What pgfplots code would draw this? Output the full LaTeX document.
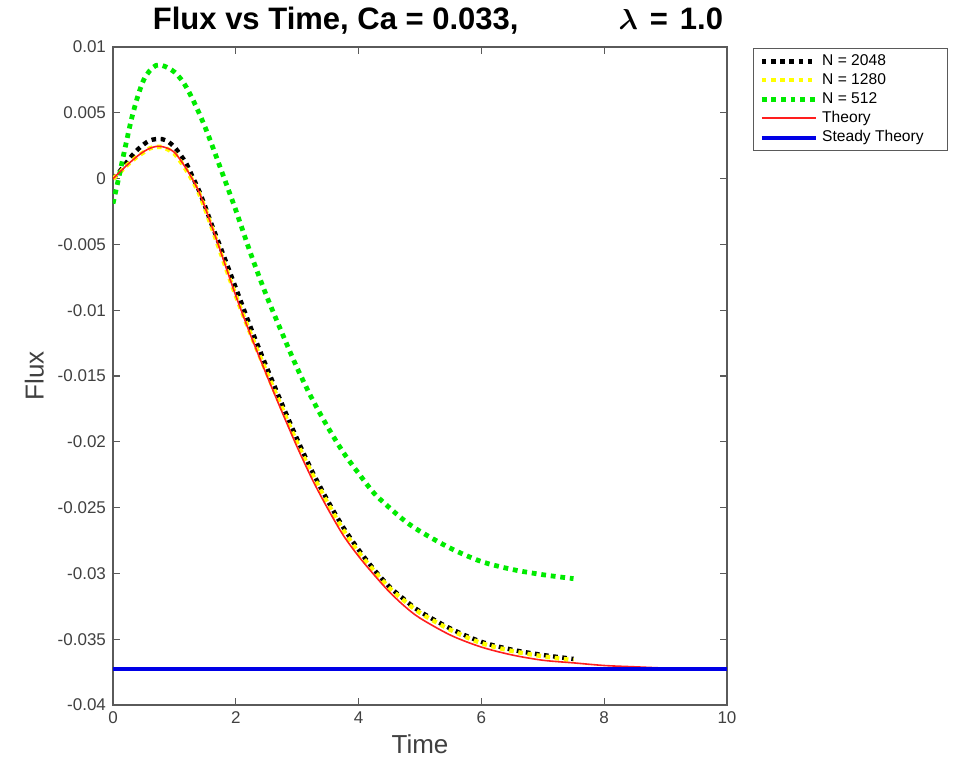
\documentclass[border=0pt]{standalone}
\usepackage{pgfplots}
\pgfplotsset{compat=1.18}
\usepackage{fontspec}
\setmainfont{Liberation Sans}

\definecolor{axgray}{RGB}{90,90,90}
\definecolor{lblgray}{RGB}{64,64,64}
\definecolor{octyellow}{RGB}{255,255,0}
\definecolor{octgreen}{RGB}{0,235,0}
\definecolor{octred}{RGB}{255,30,30}
\definecolor{octblue}{RGB}{0,0,230}

\begin{document}
\begin{tikzpicture}
\begin{axis}[
  scale only axis,width=307pt,height=329pt,
  xmin=0,xmax=10,ymin=-0.04,ymax=0.01,
  scaled y ticks=false,scaled x ticks=false,
  xtick={0,2,4,6,8,10},xticklabels={0,2,4,6,8,10},
  ytick={-0.04,-0.035,-0.03,-0.025,-0.02,-0.015,-0.01,-0.005,0,0.005,0.01},
  yticklabels={-0.04,-0.035,-0.03,-0.025,-0.02,-0.015,-0.01,-0.005,0,0.005,0.01},
  tick align=inside,major tick length=3.5pt,
  axis line style={axgray,line width=0.6pt},tick style={axgray,line width=0.6pt},
  ticklabel style={font=\fontsize{8.5}{10}\selectfont,text=lblgray},
  xlabel={Time},ylabel={Flux},
  label style={font=\fontsize{13}{15}\selectfont,text=lblgray},
  xlabel style={yshift=1.5pt},
  title={Flux vs Time, Ca = 0.033,\hspace{50pt}{\boldmath$\lambda$}\hspace{6pt}=\hspace{6pt}1.0},
  title style={font=\fontsize{15.5}{18}\selectfont\bfseries,at={(0.5,1)},anchor=base,yshift=2.5pt,xshift=9pt},
  legend style={at={(1,1)},anchor=north west,xshift=13pt,yshift=-0.5pt,
    font=\fontsize{7.8}{9}\selectfont,draw=axgray,fill=white,
    inner xsep=3pt,inner ysep=1pt,row sep=-1.5pt,cells={anchor=west}},
  legend image code/.code={\draw[#1] (0pt,0pt) -- (27pt,0pt);},
]
\addplot[black,line width=2.2pt,dash pattern=on 2.3pt off 2.3pt,smooth] coordinates {
  (0,0) (0.1,0.0005) (0.2,0.0011) (0.3,0.0017) (0.4,0.0022) (0.5,0.0026)
  (0.6,0.0029) (0.7,0.0030) (0.8,0.0030) (0.9,0.0028) (1.0,0.0024) (1.1,0.0018)
  (1.2,0.0011) (1.3,0.0001) (1.4,-0.0009) (1.5,-0.0021) (1.6,-0.0034) (1.75,-0.0052)
  (2.0,-0.0083) (2.25,-0.0114) (2.5,-0.0143) (2.75,-0.0171) (3.0,-0.0198)
  (3.25,-0.0223) (3.5,-0.0245) (3.75,-0.0265) (4.0,-0.0282) (4.25,-0.0297)
  (4.5,-0.0310) (4.75,-0.0320) (5.0,-0.0329) (5.5,-0.0342) (6.0,-0.0352)
  (6.5,-0.0358) (7.0,-0.0362) (7.5,-0.0365)
};
\addlegendentry{N = 2048}
\addplot[octyellow,line width=2.2pt,dash pattern=on 2.3pt off 2.3pt,smooth] coordinates {
  (0,0) (0.1,0.0004) (0.2,0.0009) (0.3,0.0013) (0.4,0.0017) (0.5,0.0020)
  (0.6,0.0023) (0.7,0.0024) (0.8,0.0024) (0.9,0.0022) (1.0,0.0019) (1.1,0.0013)
  (1.2,0.0006) (1.3,-0.0002) (1.4,-0.0011) (1.5,-0.0023) (1.6,-0.0036) (1.75,-0.0056)
  (2.0,-0.0089) (2.25,-0.0119) (2.5,-0.0147) (2.75,-0.0174) (3.0,-0.0201)
  (3.25,-0.0225) (3.5,-0.0247) (3.75,-0.0267) (4.0,-0.0284) (4.25,-0.0298)
  (4.5,-0.0311) (4.75,-0.0321) (5.0,-0.0330) (5.5,-0.0343) (6.0,-0.0353)
  (6.5,-0.0359) (7.0,-0.0363) (7.5,-0.0366)
};
\addlegendentry{N = 1280}
\addplot[octgreen,line width=2.4pt,dash pattern=on 2.4pt off 2.4pt,smooth] coordinates {
  (0,-0.0019) (0.1,0.0002) (0.2,0.0024) (0.3,0.0045) (0.4,0.0062) (0.5,0.0075)
  (0.6,0.0082) (0.7,0.0086) (0.8,0.0086) (0.9,0.0084) (1.0,0.0081) (1.1,0.0076)
  (1.2,0.0069) (1.3,0.0060) (1.4,0.0050) (1.5,0.0039) (1.6,0.0027) (1.75,0.0008)
  (2.0,-0.0024) (2.25,-0.0058) (2.5,-0.0089) (2.75,-0.0117) (3.0,-0.0144)
  (3.25,-0.0168) (3.5,-0.0189) (3.75,-0.0208) (4.0,-0.0224) (4.25,-0.0239)
  (4.5,-0.0250) (4.75,-0.0260) (5.0,-0.0268) (5.5,-0.0281) (6.0,-0.0291)
  (6.5,-0.0297) (7.0,-0.0301) (7.5,-0.0304)
};
\addlegendentry{N = 512}
\addplot[octred,line width=0.8pt,smooth] coordinates {
  (0,0) (0.1,0.00045) (0.2,0.0009) (0.3,0.00132) (0.4,0.00172) (0.5,0.00205)
  (0.6,0.0023) (0.7,0.00244) (0.8,0.00243) (0.9,0.00228) (1.0,0.0020) (1.1,0.0014)
  (1.2,0.0007) (1.3,-0.0001) (1.4,-0.0010) (1.5,-0.0022) (1.6,-0.0035) (1.75,-0.0055)
  (2.0,-0.0089) (2.25,-0.0120) (2.5,-0.0149) (2.75,-0.0177) (3.0,-0.0204)
  (3.25,-0.0229) (3.5,-0.0251) (3.75,-0.0271) (4.0,-0.0287) (4.25,-0.0301)
  (4.5,-0.0314) (4.75,-0.0325) (5.0,-0.0334) (5.5,-0.0347) (6.0,-0.0356)
  (6.5,-0.0362) (7.0,-0.0366) (7.5,-0.0368) (8.0,-0.0370) (8.5,-0.0371)
  (9.0,-0.0372) (9.5,-0.0373) (10,-0.0373)
};
\addlegendentry{Theory}
\addplot[octblue,line width=2pt] coordinates {(0,-0.0373) (10,-0.0373)};
\addlegendentry{Steady Theory\hspace*{7pt}\mbox{}}
\end{axis}
\path ([xshift=-56.5pt,yshift=-28.5pt]current axis.south west)
  rectangle ([xshift=113.5pt,yshift=23.5pt]current axis.north east);
\end{tikzpicture}
\end{document}
